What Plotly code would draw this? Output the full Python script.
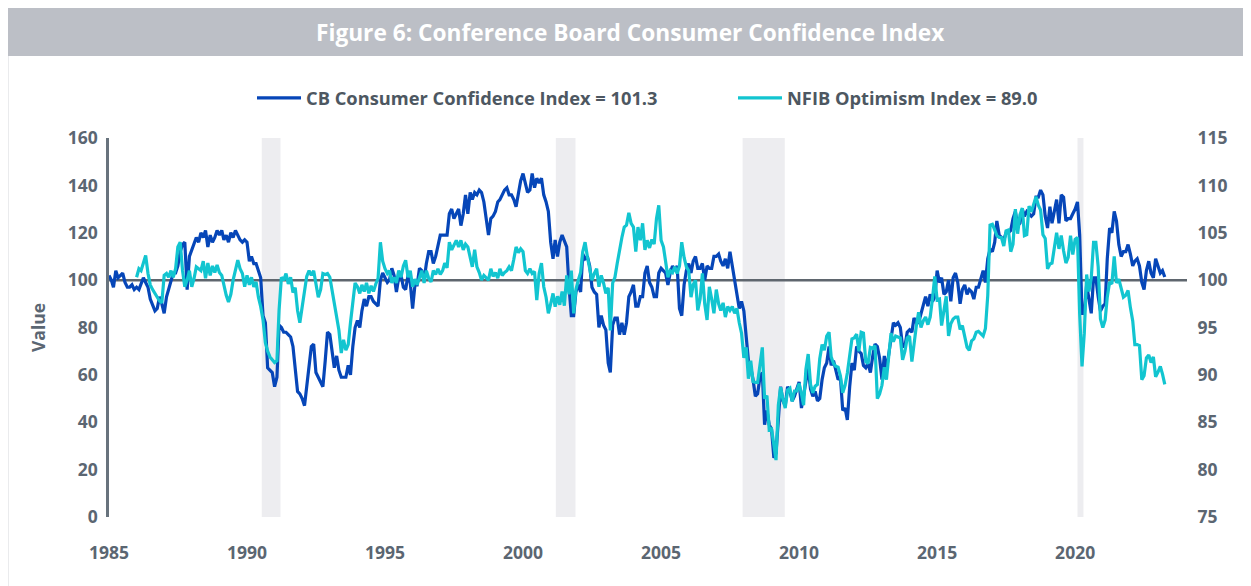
import pandas as pd
import plotly.graph_objects as go

# ---------------- data (monthly) ----------------
cb_values = [
    102, 100, 97, 104, 101, 102, 103, 99, 97, 97, 98, 96,            # 1985
    97, 96, 98, 101, 99, 97, 92, 89, 87, 88, 93, 90,                 # 1986
    86, 93, 96, 100, 103, 103, 106, 112, 115, 116, 96, 110,          # 1987
    113, 115, 118, 116, 120, 118, 121, 114, 119, 116, 118, 121,      # 1988
    119, 121, 117, 119, 116, 120, 118, 121, 119, 117, 116, 117,      # 1989
    116, 108, 110, 107, 107, 104, 101, 85, 82, 63, 62, 61,           # 1990
    55, 59, 81, 80, 78, 78, 77, 76, 72, 61, 53, 52,                  # 1991
    50, 47, 56, 65, 72, 73, 61, 59, 57, 55, 66, 78,                  # 1992
    77, 69, 63, 68, 62, 59, 59, 59, 64, 60, 72, 80,                  # 1993
    83, 80, 87, 92, 89, 93, 93, 91, 90, 89, 100, 103,                # 1994
    101, 99, 100, 105, 102, 95, 101, 102, 97, 96, 102, 99,           # 1995
    88, 98, 98, 105, 104, 100, 107, 112, 112, 107, 110, 114,         # 1996
    119, 119, 119, 119, 128, 130, 126, 128, 130, 123, 128, 136,      # 1997
    128, 137, 134, 137, 136, 138, 137, 133, 126, 119, 126, 127,      # 1998
    129, 133, 134, 136, 138, 139, 136, 136, 134, 131, 137, 142,      # 1999
    145, 141, 137, 138, 145, 139, 143, 141, 143, 136, 133, 129,      # 2000
    116, 109, 117, 110, 116, 119, 116, 114, 97, 85, 85, 95,          # 2001
    98, 95, 111, 109, 110, 106, 97, 95, 94, 80, 85, 81,              # 2002
    79, 65, 61, 81, 84, 84, 77, 82, 77, 82, 93, 95,                  # 2003
    98, 89, 89, 93, 93, 103, 106, 99, 97, 93, 93, 103,               # 2004
    105, 104, 103, 98, 103, 106, 104, 106, 88, 85, 98, 104,          # 2005
    107, 103, 108, 110, 105, 105, 107, 100, 106, 105, 105, 110,      # 2006
    110, 111, 108, 106, 109, 105, 112, 106, 100, 95, 88, 91,         # 2007
    87, 76, 66, 63, 58, 51, 52, 59, 61, 39, 45, 39,                  # 2008
    37, 25, 27, 41, 55, 49, 47, 55, 53, 49, 51, 54,                  # 2009
    57, 46, 52, 58, 63, 54, 51, 53, 49, 50, 58, 63,                  # 2010
    65, 72, 64, 66, 62, 58, 59, 45, 46, 41, 55, 65,                  # 2011
    62, 72, 70, 69, 64, 63, 65, 61, 68, 73, 72, 67,                  # 2012
    58, 68, 62, 69, 76, 82, 81, 82, 80, 72, 72, 78,                  # 2013
    79, 78, 84, 82, 82, 86, 90, 93, 89, 94, 91, 93,                  # 2014
    104, 99, 101, 94, 95, 100, 91, 101, 103, 99, 90, 96,             # 2015
    98, 94, 96, 95, 92, 97, 97, 101, 104, 99, 109, 113,              # 2016
    112, 116, 125, 119, 118, 117, 120, 120, 121, 126, 129, 123,      # 2017
    124, 130, 127, 129, 128, 127, 128, 135, 135, 138, 136, 127,      # 2018
    122, 131, 124, 129, 134, 124, 136, 135, 125, 126, 126, 128,      # 2019
    130, 133, 119, 86, 86, 98, 92, 86, 101, 101, 93, 87,             # 2020
    89, 90, 109, 122, 120, 129, 125, 115, 110, 112, 112, 115,        # 2021
    111, 106, 108, 109, 106, 99, 96, 104, 108, 103, 101, 109,        # 2022
    106, 103, 104, 101.3,                                            # 2023
]

nfib_values = [
    100.3, 101.2, 101.0, 101.8, 102.6, 100.7, 99.5, 99.0, 98.6, 98.3, 97.8, 97.6,        # 1986
    100.5, 100.7, 100.3, 101.0, 100.3, 101.2, 103.5, 104.0, 101.0, 99.3, 100.0, 101.0,   # 1987
    99.3, 100.2, 101.4, 101.2, 101.0, 102.0, 100.2, 101.8, 100.5, 101.5, 100.8, 101.6,   # 1988
    100.8, 100.5, 99.3, 98.4, 97.7, 98.5, 100.0, 101.0, 102.1, 101.2, 100.7, 99.3,       # 1989
    100.5, 99.5, 100.3, 99.3, 99.8, 98.2, 97.2, 95.8, 93.4, 92.5, 91.9, 91.6,            # 1990
    91.3, 91.5, 96.8, 100.3, 100.0, 100.7, 99.6, 100.3, 98.7, 99.2, 96.8, 95.5,          # 1991
    97.0, 98.6, 100.4, 101.0, 100.5, 101.0, 99.7, 98.2, 99.0, 100.7, 100.6, 100.7,       # 1992
    100.3, 98.8, 97.6, 96.1, 94.7, 92.3, 93.7, 92.6, 93.2, 95.5, 97.6, 99.7,             # 1993
    99.3, 98.6, 99.5, 98.8, 99.7, 98.6, 99.4, 98.8, 99.6, 100.2, 104.0, 102.0,           # 1994
    101.2, 100.7, 101.0, 99.7, 100.3, 99.7, 101.0, 100.3, 101.5, 102.1, 100.3, 101.0,    # 1995
    99.3, 100.1, 99.5, 100.3, 101.0, 99.7, 101.0, 100.2, 99.8, 101.0, 100.6, 101.2,      # 1996
    100.6, 101.0, 101.8, 101.3, 104.0, 103.2, 103.8, 104.2, 103.5, 104.2, 103.2, 103.8,  # 1997
    103.5, 102.4, 101.4, 103.2, 101.4, 100.8, 100.0, 100.5, 100.3, 100.0, 101.2, 100.4,  # 1998
    100.8, 100.2, 101.2, 100.5, 100.8, 101.0, 101.4, 101.0, 102.2, 103.5, 102.9, 103.3,  # 1999
    103.0, 101.0, 100.7, 101.2, 100.7, 100.9, 97.9, 100.7, 101.8, 99.3, 98.2, 96.5,      # 2000
    97.5, 98.6, 97.2, 98.3, 97.4, 98.8, 97.3, 100.5, 98.5, 101.0, 96.5, 99.0,            # 2001
    100.0, 100.8, 103.0, 104.0, 102.5, 101.0, 100.0, 100.7, 101.2, 99.3, 100.5, 99.7,    # 2002
    98.6, 99.2, 94.7, 99.7, 100.3, 101.8, 103.2, 104.5, 105.6, 105.8, 107.1, 106.0,      # 2003
    105.6, 103.0, 105.6, 104.2, 106.0, 103.2, 104.2, 103.4, 104.3, 103.8, 106.5, 107.9,  # 2004
    104.2, 103.5, 102.0, 100.3, 101.0, 100.8, 101.4, 100.7, 101.5, 104.0, 102.4, 101.4,  # 2005
    101.0, 98.2, 99.5, 100.0, 96.8, 98.0, 100.7, 97.5, 95.8, 99.3, 98.0, 96.5,           # 2006
    99.0, 97.5, 96.8, 97.6, 96.1, 97.2, 96.8, 97.2, 96.5, 97.0, 95.5, 94.4,              # 2007
    91.8, 92.9, 89.6, 91.5, 89.3, 89.2, 89.2, 91.1, 92.9, 87.5, 87.8, 84.2,              # 2008
    84.3, 82.6, 81.0, 86.8, 88.7, 87.4, 86.5, 88.4, 88.6, 87.2, 88.3, 88.3,              # 2009
    89.1, 88.0, 86.8, 90.6, 92.2, 89.0, 88.1, 88.8, 89.0, 91.7, 93.2, 92.6,              # 2010
    94.1, 94.5, 91.9, 91.2, 90.9, 90.8, 89.9, 88.1, 88.9, 90.2, 92.0, 93.8,              # 2011
    93.9, 94.3, 92.5, 94.5, 94.4, 91.4, 91.2, 92.9, 92.8, 93.1, 87.5, 88.0,              # 2012
    88.9, 90.8, 89.5, 92.1, 94.4, 93.5, 94.1, 94.0, 93.9, 91.6, 92.5, 93.9,              # 2013
    94.1, 91.4, 93.4, 95.2, 96.6, 95.0, 95.7, 96.1, 95.3, 96.1, 98.1, 100.4,             # 2014
    97.9, 98.0, 95.2, 96.9, 98.3, 94.1, 95.4, 95.9, 96.1, 96.1, 94.8, 95.2,              # 2015
    93.9, 92.9, 92.6, 93.6, 93.8, 94.5, 94.6, 94.4, 94.1, 94.9, 98.4, 105.8,             # 2016
    105.9, 105.3, 104.7, 104.5, 104.5, 103.6, 105.2, 105.3, 103.0, 103.8, 107.5, 104.9,  # 2017
    106.9, 107.6, 104.7, 104.8, 107.8, 107.2, 107.9, 108.8, 107.9, 107.4, 104.8, 104.4,  # 2018
    101.2, 101.7, 101.8, 103.5, 105.0, 103.3, 104.7, 103.1, 101.8, 102.4, 104.7, 102.7,  # 2019
    104.3, 104.5, 96.4, 90.9, 94.4, 100.6, 98.8, 100.2, 104.0, 104.0, 101.4, 95.9,       # 2020
    95.0, 95.8, 98.2, 99.8, 99.6, 102.5, 99.7, 100.1, 99.1, 98.2, 98.4, 98.9,            # 2021
    97.1, 95.7, 93.2, 93.2, 93.1, 89.5, 89.9, 91.8, 92.1, 91.3, 91.9, 89.8,              # 2022
    90.3, 90.9, 90.1, 89.0,                                                              # 2023
]

cb_start = "1985-01-01"
nfib_start = "1986-01-01"

recession_starts = ["1990-07-15", "2001-03-10", "2007-12-15", "2020-02-01"]
recession_ends = ["1991-03-20", "2001-11-25", "2009-06-25", "2020-04-20"]

x_tick_years = [1985, 1990, 1995, 2000, 2005, 2010, 2015, 2020]
x_tick_labels = ["1985", "1990", "1995", "2000", "2005", "2010", "2015", "2020"]

series_names = ["CB Consumer Confidence Index = 101.3", "NFIB Optimism Index = 89.0"]
title_text = "Figure 6: Conference Board Consumer Confidence Index"

# ---------------- figure ----------------
cb_dates = pd.date_range(cb_start, periods=len(cb_values), freq="MS")
nfib_dates = pd.date_range(nfib_start, periods=len(nfib_values), freq="MS")

BLUE = "#0646b8"
CYAN = "#12c5d0"
GRAY_TXT = "#5b6672"
FONT = "Open Sans"

# the page body adds an 8px offset; figure coordinates below are page coords - 8
OFF = 8
W, H = 1251 - OFF, 586 - OFF
L, R, T, B = 109 - OFF, 1251 - 1187, 138 - OFF, 586 - 517
PW, PH = W - L - R, H - T - B


def px_x(px):
    return (px - OFF - L) / PW


def px_y(py):
    return (H - B - (py - OFF)) / PH


fig = go.Figure()
fig.add_trace(go.Scatter(x=cb_dates, y=cb_values, name=series_names[0], mode="lines",
                         line=dict(color=BLUE, width=3.2), yaxis="y", legend="legend"))
fig.add_trace(go.Scatter(x=nfib_dates, y=nfib_values, name=series_names[1], mode="lines",
                         line=dict(color=CYAN, width=3.2), yaxis="y2", legend="legend2"))

shapes = []
# card border
shapes.append(dict(type="rect", xref="paper", yref="paper",
                   x0=px_x(8), x1=px_x(1270), y0=px_y(8), y1=px_y(610),
                   line=dict(color="#d5d7dc", width=1), fillcolor="rgba(0,0,0,0)", layer="below"))
# title band
shapes.append(dict(type="rect", xref="paper", yref="paper",
                   x0=px_x(8), x1=px_x(1270), y0=px_y(56), y1=px_y(8),
                   line=dict(width=0), fillcolor="#bcbfc6", layer="below"))
# recessions
for s, e in zip(recession_starts, recession_ends):
    shapes.append(dict(type="rect", xref="x", yref="paper", x0=s, x1=e, y0=0, y1=1,
                       line=dict(width=0), fillcolor="#ededf0", layer="below"))
# 100 reference line
shapes.append(dict(type="line", xref="paper", yref="y", x0=0, x1=1, y0=100, y1=100,
                   line=dict(color="#5f666e", width=2.5), layer="below"))

legend_font = dict(family=FONT, size=18.3, color="#4d5761", weight="bold")
tick_font = dict(family=FONT, size=17.5, color=GRAY_TXT, weight="bold")

fig.update_layout(
    width=W, height=H,
    margin=dict(l=L, r=R, t=T, b=B, autoexpand=False),
    paper_bgcolor="white", plot_bgcolor="white",
    font=dict(family=FONT, color=GRAY_TXT),
    shapes=shapes,
    showlegend=True,
    legend=dict(orientation="h", x=px_x(252), xanchor="left", y=px_y(98), yanchor="middle",
                font=legend_font, bgcolor="rgba(0,0,0,0)", itemwidth=44),
    legend2=dict(orientation="h", x=px_x(733), xanchor="left", y=px_y(98), yanchor="middle",
                 font=legend_font, bgcolor="rgba(0,0,0,0)", itemwidth=44),
    annotations=[dict(text=title_text, xref="paper", yref="paper",
                      x=px_x(630), y=px_y(33), showarrow=False, xanchor="center", yanchor="middle",
                      font=dict(family=FONT, size=22.7, color="white", weight="bold"))],
    xaxis=dict(type="date", range=["1985-01-01", "2024-01-20"],
               tickvals=[f"{y}-01-01" for y in x_tick_years], ticktext=x_tick_labels,
               showgrid=False, zeroline=False, showline=False,
               ticks="outside", ticklen=20, tickcolor="rgba(0,0,0,0)",
               tickfont=tick_font),
    yaxis=dict(range=[0, 160], dtick=20, showgrid=False, zeroline=False,
               showline=True, linecolor="#68737d", linewidth=2.5,
               ticks="outside", ticklen=5, tickcolor="rgba(0,0,0,0)",
               tickfont=tick_font,
               title=dict(text="Value", standoff=18, font=tick_font)),
    yaxis2=dict(range=[75, 115], dtick=5, overlaying="y", side="right",
                showgrid=False, zeroline=False, showline=False,
                ticks="outside", ticklen=6, tickcolor="rgba(0,0,0,0)",
                tickfont=tick_font),
)

fig.write_html("out.html")
